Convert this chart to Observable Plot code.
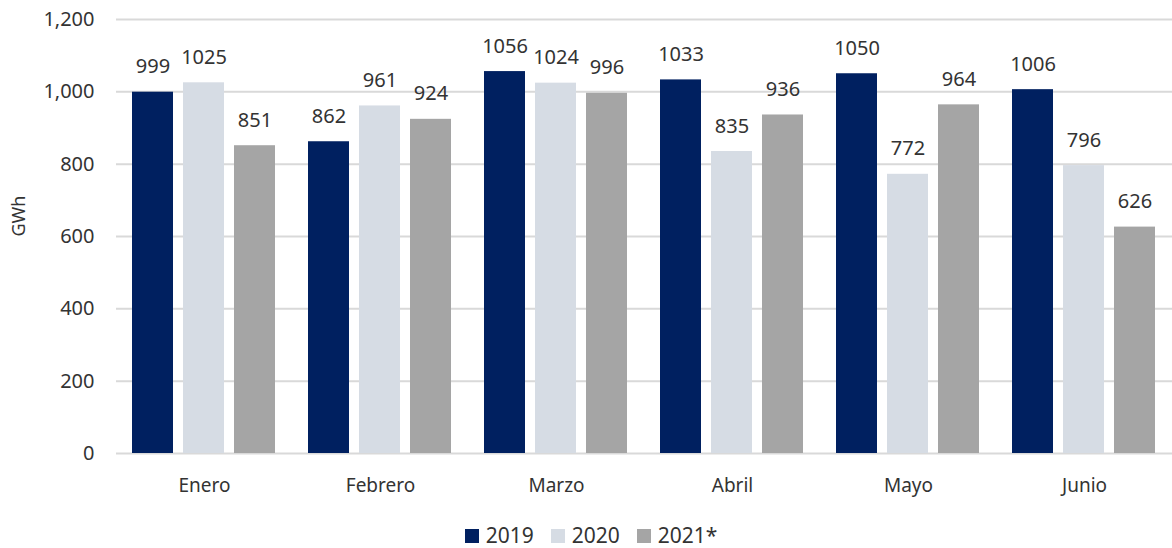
<!DOCTYPE html>
<html><head><meta charset="utf-8">
<script src="https://cdn.jsdelivr.net/npm/d3@7"></script>
<script src="https://cdn.jsdelivr.net/npm/@observablehq/plot@0.6"></script>
<style>
html,body{margin:0;background:#fff;font-family:"Noto Sans",sans-serif;}
#chart{height:510px;}
#legend{display:flex;justify-content:center;gap:17px;font-size:21px;line-height:22px;color:#333;height:22px;padding-top:14px;align-items:center;padding-left:10px;}
#legend span.sw{display:inline-block;width:14px;height:14px;margin-right:7px;vertical-align:0px;}
</style></head>
<body><div id="chart"></div><div id="legend"></div>
<script>
const months = ["Enero","Febrero","Marzo","Abril","Mayo","Junio"];
const years = ["2019","2020","2021*"];
const v2019 = [999,862,1056,1033,1050,1006];
const v2020 = [1025,961,1024,835,772,796];
const v2021 = [851,924,996,936,964,626];
const colors = ["#002060","#d6dce4","#a5a5a5"];
const yTicks = [0,200,400,600,800,1000,1200];

const series = [v2019, v2020, v2021];
const data = [];
months.forEach((m,i)=>years.forEach((y,j)=>data.push({month:m, year:y, value:series[j][i]})));

const chart = Plot.plot({
  width:1172, height:510,
  marginLeft:115, marginRight:0, marginTop:19, marginBottom:57,
  style:{fontFamily:'"Noto Sans",sans-serif', fontSize:"19px", color:"#333", background:"transparent", overflow:"visible", display:"block"},
  fx:{domain:months, padding:0, label:null, tickSize:0, tickPadding:25},
  x:{domain:years, axis:null, paddingInner:0.19, paddingOuter:0.29},
  y:{domain:[0,1200], label:null},
  color:{domain:years, range:colors},
  marks:[
    Plot.gridY(yTicks, {stroke:"#d9d9d9", strokeOpacity:1, strokeWidth:2}),
    Plot.axisY(yTicks, {tickSize:0, tickPadding:22, tickFormat:d3.format(","), fontSize:20, fill:"#333", label:null}),
    Plot.barY(data, {fx:"month", x:"year", y:"value", fill:"year"}),
    Plot.text(data, {fx:"month", x:"year", y:"value", text:d=>String(d.value), dy:-19, lineAnchor:"bottom", fontSize:20, fill:"#333"}),
    Plot.text([{m:months[0]}], {fx:"m", text:()=>"GWh", frameAnchor:"left", dx:-97, rotate:-90, fontSize:18, fill:"#333"})
  ]
});
document.getElementById("chart").appendChild(chart);
const leg = document.getElementById("legend");
years.forEach((y,j)=>{
  const d=document.createElement("div");
  d.innerHTML=`<span class="sw" style="background:${colors[j]}"></span>${y}`;
  leg.appendChild(d);
});
</script></body></html>
